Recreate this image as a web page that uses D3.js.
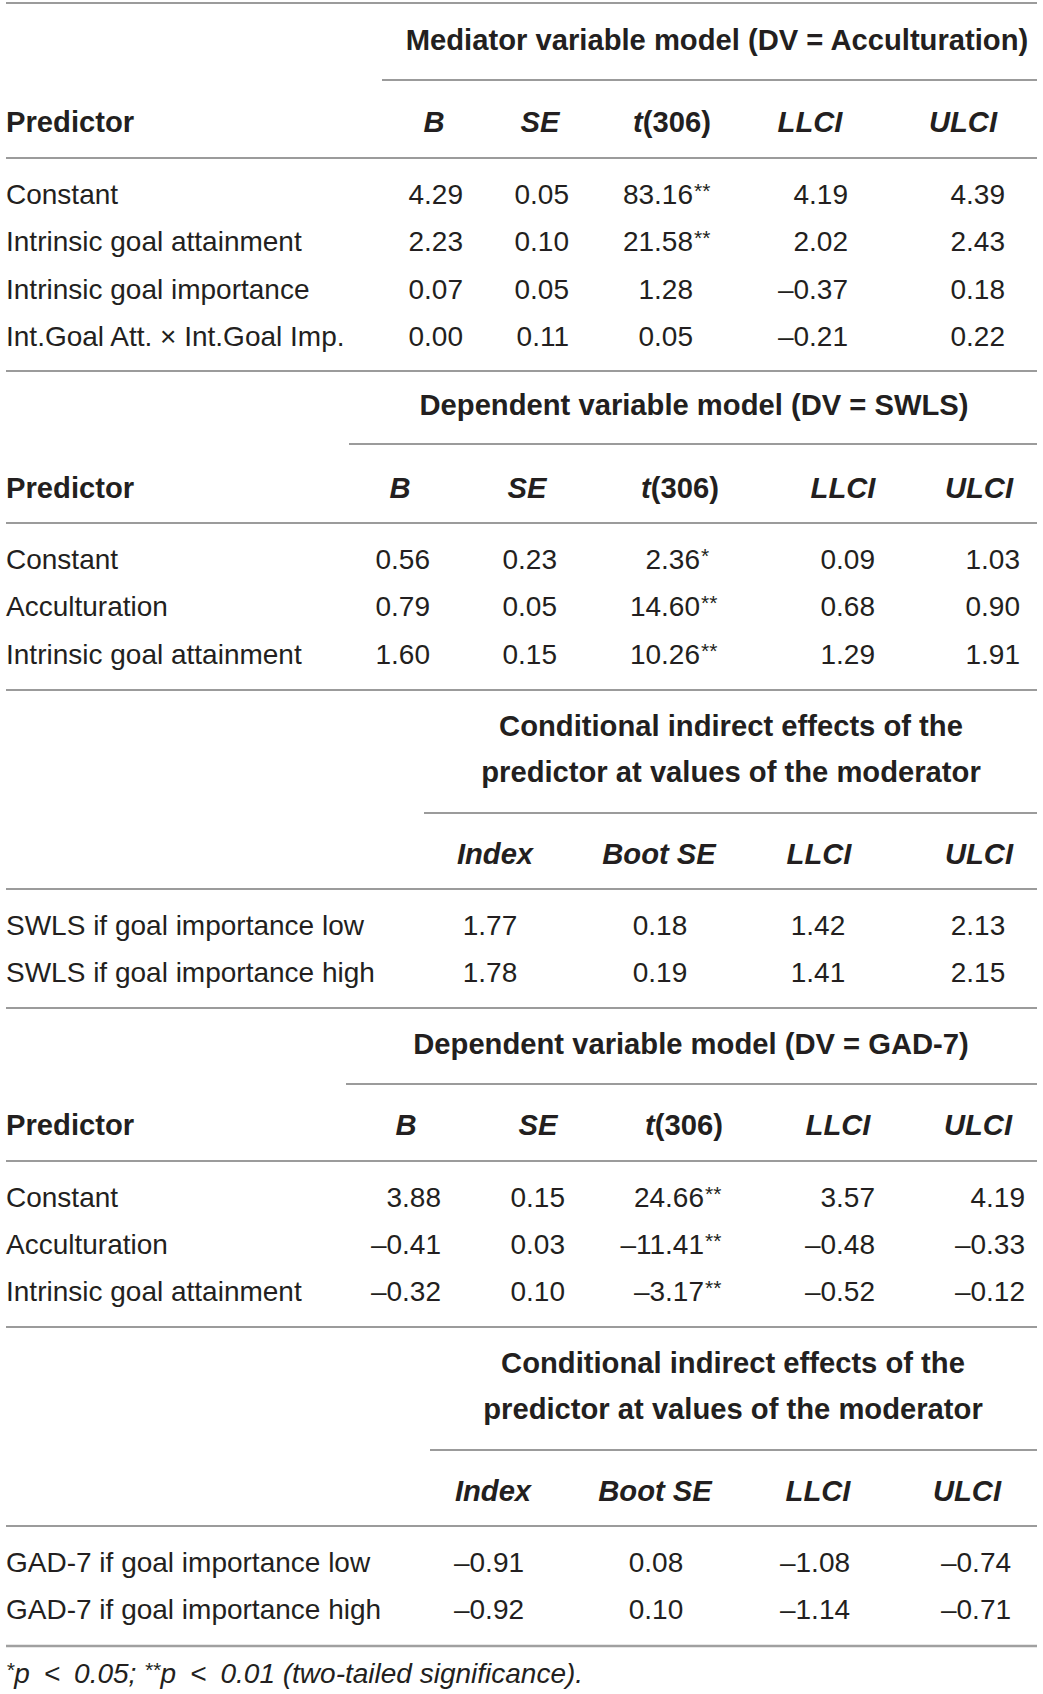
<!DOCTYPE html>
<html>
<head>
<meta charset="utf-8">
<script src="https://cdn.jsdelivr.net/npm/d3@7"></script>
<style>
  html, body { margin: 0; padding: 0; background: #fff; }
  svg { display: block; }
  text { font-family: "Liberation Sans", Arial, Helvetica, sans-serif; fill: #231f20; }
</style>
</head>
<body>
<svg id="chart" width="1043" height="1694"></svg>
<script>
// ---------------- DATA ----------------
// Section 1: Mediator variable model (DV = Acculturation)
const s1Title = ["Mediator variable model (DV = Acculturation)"];
const s1Columns = ["B", "SE", "t(306)", "LLCI", "ULCI"];
const s1Predictors = ["Constant", "Intrinsic goal attainment", "Intrinsic goal importance", "Int.Goal Att. \u00d7 Int.Goal Imp."];
const s1B    = [4.29, 2.23, 0.07, 0.00];
const s1SE   = [0.05, 0.10, 0.05, 0.11];
const s1T    = [83.16, 21.58, 1.28, 0.05];
const s1TSig = ["**", "**", "", ""];
const s1LLCI = [4.19, 2.02, -0.37, -0.21];
const s1ULCI = [4.39, 2.43, 0.18, 0.22];

// Section 2: Dependent variable model (DV = SWLS)
const s2Title = ["Dependent variable model (DV = SWLS)"];
const s2Columns = ["B", "SE", "t(306)", "LLCI", "ULCI"];
const s2Predictors = ["Constant", "Acculturation", "Intrinsic goal attainment"];
const s2B    = [0.56, 0.79, 1.60];
const s2SE   = [0.23, 0.05, 0.15];
const s2T    = [2.36, 14.60, 10.26];
const s2TSig = ["*", "**", "**"];
const s2LLCI = [0.09, 0.68, 1.29];
const s2ULCI = [1.03, 0.90, 1.91];

// Section 3: Conditional indirect effects (SWLS)
const s3Title = ["Conditional indirect effects of the", "predictor at values of the moderator"];
const s3Columns = ["Index", "Boot SE", "LLCI", "ULCI"];
const s3Predictors = ["SWLS if goal importance low", "SWLS if goal importance high"];
const s3Index  = [1.77, 1.78];
const s3BootSE = [0.18, 0.19];
const s3LLCI   = [1.42, 1.41];
const s3ULCI   = [2.13, 2.15];

// Section 4: Dependent variable model (DV = GAD-7)
const s4Title = ["Dependent variable model (DV = GAD-7)"];
const s4Columns = ["B", "SE", "t(306)", "LLCI", "ULCI"];
const s4Predictors = ["Constant", "Acculturation", "Intrinsic goal attainment"];
const s4B    = [3.88, -0.41, -0.32];
const s4SE   = [0.15, 0.03, 0.10];
const s4T    = [24.66, -11.41, -3.17];
const s4TSig = ["**", "**", "**"];
const s4LLCI = [3.57, -0.48, -0.52];
const s4ULCI = [4.19, -0.33, -0.12];

// Section 5: Conditional indirect effects (GAD-7)
const s5Title = ["Conditional indirect effects of the", "predictor at values of the moderator"];
const s5Columns = ["Index", "Boot SE", "LLCI", "ULCI"];
const s5Predictors = ["GAD-7 if goal importance low", "GAD-7 if goal importance high"];
const s5Index  = [-0.91, -0.92];
const s5BootSE = [0.08, 0.10];
const s5LLCI   = [-1.08, -1.14];
const s5ULCI   = [-0.74, -0.71];

const footnoteParts = [["*", true], ["p\u2002<\u20020.05; ", false], ["**", true], ["p\u2002<\u20020.01 (two-tailed significance).", false]];

// ---------------- RENDER ----------------
const svg = d3.select("#chart");
svg.append("rect").attr("width", 1043).attr("height", 1694).attr("fill", "#fff");

const fmt = v => d3.format(".2f")(v).replace("-", "\u2013").replace("\u2212", "\u2013");
const FS = 28, FSB = 29.2, FSSUP = 21;
const LEFT = 6, RIGHT = 1037;
const lineColor = "#7a7a7a";

function hline(x1, x2, y, w, c) {
  svg.append("line").attr("x1", x1).attr("x2", x2).attr("y1", y).attr("y2", y)
    .attr("stroke", c || lineColor).attr("stroke-width", w || 1.5);
}

function header(g, label, x) {
  const t = g.append("text").attr("x", x).attr("text-anchor", "middle")
    .attr("font-size", FSB).attr("font-weight", "bold");
  if (label === "t(306)") {
    t.append("tspan").attr("font-style", "italic").text("t");
    t.append("tspan").text("(306)");
  } else {
    t.attr("font-style", "italic").text(label);
  }
}

// Generic section renderer
function section(cfg) {
  const g = svg.append("g");
  const ty = d3.scaleLinear().domain([0, 1]).range([cfg.titleY, cfg.titleY + 46]);
  cfg.title.forEach((line, i) => {
    g.append("text").attr("x", cfg.titleX).attr("y", ty(i) + 10)
      .attr("text-anchor", "middle").attr("font-size", FSB).attr("font-weight", "bold").text(line);
  });
  hline(cfg.partialX, RIGHT, cfg.partialY);
  const hy = cfg.headerY + 10;
  const hg = g.append("g").attr("transform", `translate(0,${hy})`);
  if (cfg.showPredictor) {
    hg.append("text").attr("x", LEFT).attr("font-size", FSB).attr("font-weight", "bold").text("Predictor");
  }
  const colX = d3.scaleOrdinal().domain(cfg.columns).range(cfg.headerX);
  cfg.columns.forEach(c => header(hg, c, colX(c)));
  hline(LEFT, RIGHT, cfg.headerLineY);
  const n = cfg.predictors.length;
  const y = d3.scalePoint().domain(d3.range(n)).range([cfg.rowY0, cfg.rowY0 + (n - 1) * 47.4]);
  const valX = d3.scaleOrdinal().domain(cfg.columns).range(cfg.valueX);
  cfg.predictors.forEach((p, i) => {
    const ry = y(i) + 10;
    g.append("text").attr("x", LEFT).attr("y", ry).attr("font-size", FS).text(p);
    cfg.columns.forEach((c, j) => {
      const v = cfg.values[j][i];
      g.append("text").attr("x", valX(c)).attr("y", ry)
        .attr("text-anchor", cfg.anchor).attr("font-size", FS).text(fmt(v));
      if (cfg.sig && cfg.sig[j] && cfg.sig[j][i]) {
        g.append("text").attr("x", valX(c) + 1).attr("y", ry - 6)
          .attr("font-size", FSSUP).text(cfg.sig[j][i]);
      }
    });
  });
  hline(LEFT, RIGHT, cfg.bottomY, cfg.bottomW, cfg.bottomC);
}

hline(LEFT, RIGHT, 3);

section({
  title: s1Title, titleX: 717, titleY: 40, partialX: 382, partialY: 80,
  showPredictor: true, headerY: 122, headerLineY: 158,
  columns: s1Columns, headerX: [434, 540, 672, 810, 963],
  valueX: [463, 569, 693, 848, 1005], anchor: "end",
  predictors: s1Predictors, rowY0: 194,
  values: [s1B, s1SE, s1T, s1LLCI, s1ULCI], sig: [null, null, s1TSig, null, null],
  bottomY: 371
});

section({
  title: s2Title, titleX: 694, titleY: 405, partialX: 349, partialY: 444,
  showPredictor: true, headerY: 488, headerLineY: 523,
  columns: s2Columns, headerX: [400, 527, 680, 843, 979],
  valueX: [430, 557, 700, 875, 1020], anchor: "end",
  predictors: s2Predictors, rowY0: 559,
  values: [s2B, s2SE, s2T, s2LLCI, s2ULCI], sig: [null, null, s2TSig, null, null],
  bottomY: 690
});

section({
  title: s3Title, titleX: 731, titleY: 726, partialX: 424, partialY: 813,
  showPredictor: false, headerY: 854, headerLineY: 889,
  columns: s3Columns, headerX: [495, 659, 819, 979],
  valueX: [490, 660, 818, 978], anchor: "middle",
  predictors: s3Predictors, rowY0: 925,
  values: [s3Index, s3BootSE, s3LLCI, s3ULCI], sig: null,
  bottomY: 1008
});

section({
  title: s4Title, titleX: 691, titleY: 1044, partialX: 346, partialY: 1084,
  showPredictor: true, headerY: 1125, headerLineY: 1161,
  columns: s4Columns, headerX: [406, 538, 684, 838, 978],
  valueX: [441, 565, 704, 875, 1025], anchor: "end",
  predictors: s4Predictors, rowY0: 1196.5,
  values: [s4B, s4SE, s4T, s4LLCI, s4ULCI], sig: [null, null, s4TSig, null, null],
  bottomY: 1327
});

section({
  title: s5Title, titleX: 733, titleY: 1363, partialX: 430, partialY: 1450,
  showPredictor: false, headerY: 1491, headerLineY: 1526,
  columns: s5Columns, headerX: [493, 655, 818, 967],
  valueX: [489, 656, 815, 976], anchor: "middle",
  predictors: s5Predictors, rowY0: 1562,
  values: [s5Index, s5BootSE, s5LLCI, s5ULCI], sig: null,
  bottomY: 1646, bottomW: 2.5, bottomC: "#a0a0a0"
});

// footnote
const fn = svg.append("text").attr("x", LEFT).attr("y", 1683).attr("font-size", FS).attr("font-style", "italic");
footnoteParts.forEach(([t, sup]) => {
  const ts = fn.append("tspan").text(t);
  if (sup) ts.attr("font-size", FSSUP).attr("dy", -6);
  else ts.attr("dy", 6);
});
</script>
</body>
</html>
